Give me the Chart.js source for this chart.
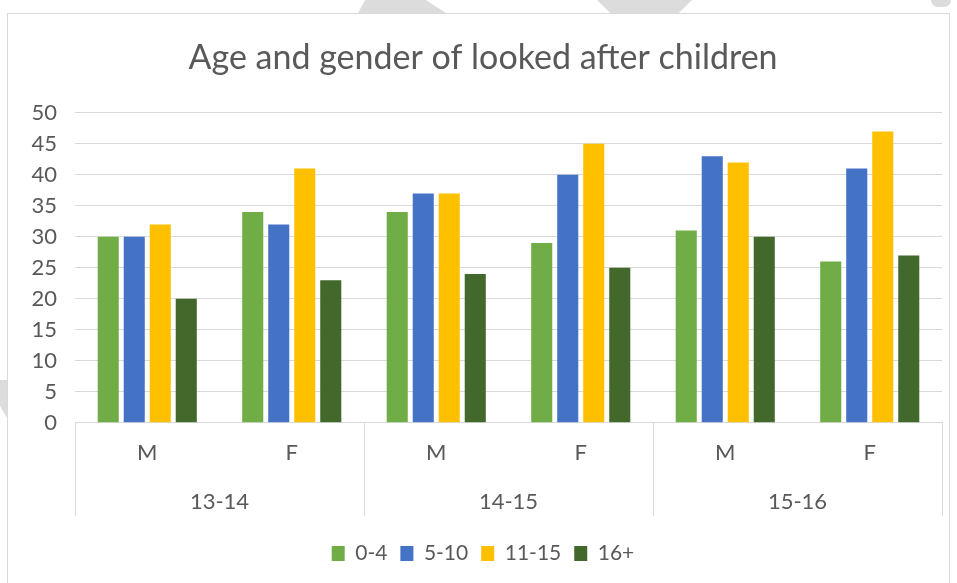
<!DOCTYPE html>
<html>
<head>
<meta charset="utf-8">
<script src="https://cdn.jsdelivr.net/npm/chart.js@4.4.1/dist/chart.umd.min.js"></script>
<style>
  html, body { margin: 0; padding: 0; background: #fff; }
  #wrap {
    position: absolute; left: 7px; top: 13px;
    width: 943px; height: 580px;
    border: 1px solid #d9d9d9; box-sizing: border-box; background: #fff;
  }
  .mark { position: absolute; background: #dcdcdc; }
</style>
</head>
<body>
<!-- faint page watermark pieces around the chart -->
<div class="mark" style="left:358px;top:0;width:88px;height:13px;clip-path:polygon(8% 0,77% 0,100% 100%,0 100%);border-radius:8px 0 0 0"></div>
<div class="mark" style="left:597px;top:0;width:95px;height:13px;clip-path:polygon(0 0,100% 0,86% 100%,14% 100%)"></div>
<div class="mark" style="left:931px;top:0;width:20px;height:7px;border-radius:0 0 10px 10px"></div>
<div class="mark" style="left:0;top:380px;width:7px;height:38px;clip-path:polygon(0 0,100% 0,100% 100%,0 68%)"></div>
<div id="wrap"><canvas id="chart"></canvas></div>
<script>
const genders = ['M', 'F', 'M', 'F', 'M', 'F'];
const years = ['13-14', '14-15', '15-16'];
const age0to4 = [30, 34, 34, 29, 31, 26];
const age5to10 = [30, 32, 37, 40, 43, 41];
const age11to15 = [32, 41, 37, 45, 42, 47];
const age16plus = [20, 23, 24, 25, 30, 27];

const textColor = '#595959';
const gridColor = '#d9d9d9';
const font = "Lato, 'Open Sans', sans-serif";

// vertical separators of the two-level category axis
const groupLines = {
  id: 'groupLines',
  afterDraw(chart) {
    const x = chart.scales.x;
    const x2 = chart.scales.x2;
    const ctx = chart.ctx;
    const step = (x.getPixelForValue(1) - x.getPixelForValue(0));
    const pts = [x.left];
    for (let i = 1; i < years.length; i++) {
      pts.push(x.getPixelForValue(i * 2) - step / 2);
    }
    pts.push(x.right);
    ctx.save();
    ctx.strokeStyle = gridColor;
    ctx.lineWidth = 1;
    ctx.beginPath();
    pts.forEach(p => {
      const px = Math.round(p) + 0.5;
      ctx.moveTo(px, x.top);
      ctx.lineTo(px, x2.bottom);
    });
    ctx.stroke();
    ctx.restore();
  }
};

const ds = (label, data, color) => ({
  label, data, backgroundColor: color,
  categoryPercentage: 0.72, barPercentage: 0.81
});

new Chart(document.getElementById('chart'), {
  type: 'bar',
  data: {
    labels: genders,
    datasets: [
      ds('0-4', age0to4, '#70AD47'),
      ds('5-10', age5to10, '#4472C4'),
      ds('11-15', age11to15, '#FFC000'),
      ds('16+', age16plus, '#43682B')
    ]
  },
  plugins: [groupLines],
  options: {
    responsive: true,
    maintainAspectRatio: false,
    animation: false,
    layout: { padding: { left: 16, right: 7, top: 0, bottom: 18 } },
    plugins: {
      title: {
        display: true,
        text: 'Age and gender of looked after children',
        color: textColor,
        font: { family: font, size: 34, weight: '400' },
        padding: { top: 24, bottom: 34 }
      },
      legend: {
        position: 'bottom',
        title: { display: true, text: '', font: { size: 1 }, padding: { top: 0, bottom: 13 } },
        labels: {
          color: textColor,
          font: { family: font, size: 21 },
          boxWidth: 13, boxHeight: 15,
          padding: 13
        }
      },
      tooltip: { enabled: false }
    },
    scales: {
      y: {
        min: 0, max: 50,
        ticks: { stepSize: 5, color: textColor, font: { family: font, size: 22 }, padding: 18 },
        grid: { color: gridColor, drawTicks: false },
        border: { display: false },
        afterFit: s => { s.width = 51; }
      },
      x: {
        grid: { display: false },
        border: { display: true, color: gridColor },
        ticks: { color: textColor, font: { family: font, size: 22 }, padding: 9 },
        afterFit: s => { s.height = 52; }
      },
      x2: {
        type: 'category',
        labels: years,
        position: 'bottom',
        offset: true,
        grid: { display: false },
        border: { display: false },
        ticks: { color: textColor, font: { family: font, size: 22 }, padding: 6 },
        afterFit: s => { s.height = 41; }
      }
    }
  }
});
</script>
</body>
</html>
